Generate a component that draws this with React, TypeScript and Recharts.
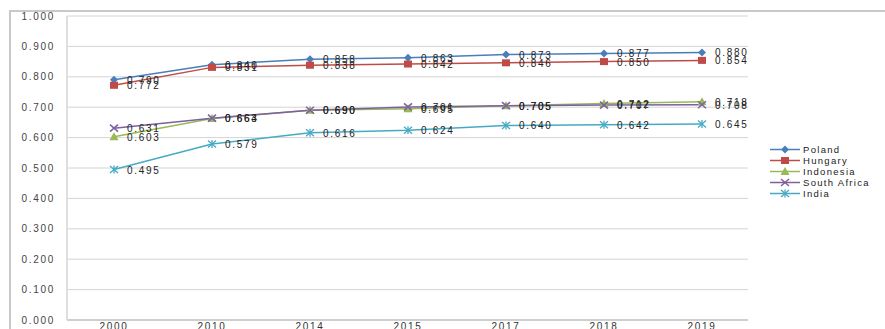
import React from 'react';
import { LineChart, Line, XAxis, YAxis, CartesianGrid, Legend } from 'recharts';

const years = ['2000', '2010', '2014', '2015', '2017', '2018', '2019'];
const poland = [0.790, 0.840, 0.858, 0.863, 0.873, 0.877, 0.880];
const hungary = [0.772, 0.831, 0.838, 0.842, 0.846, 0.850, 0.854];
const indonesia = [0.603, 0.663, 0.690, 0.695, 0.705, 0.712, 0.718];
const southAfrica = [0.631, 0.664, 0.690, 0.701, 0.705, 0.707, 0.708];
const india = [0.495, 0.579, 0.616, 0.624, 0.640, 0.642, 0.645];
const yTicks = [0, 0.1, 0.2, 0.3, 0.4, 0.5, 0.6, 0.7, 0.8, 0.9, 1.0];

const seriesDefs = [
  { key: 'Poland', values: poland, color: '#4a7ebb', shape: 'diamond' },
  { key: 'Hungary', values: hungary, color: '#be4b48', shape: 'square' },
  { key: 'Indonesia', values: indonesia, color: '#98b954', shape: 'triangle' },
  { key: 'South Africa', values: southAfrica, color: '#7d60a0', shape: 'x' },
  { key: 'India', values: india, color: '#46aac5', shape: 'star' },
];

const data = years.map((y, i) => {
  const row: any = { year: y };
  seriesDefs.forEach((s) => { row[s.key] = s.values[i]; });
  return row;
});

const FONT = 'Liberation Sans, Arial, sans-serif';

function Marker({ cx, cy, shape, color }: { cx: number; cy: number; shape: string; color: string }) {
  if (shape === 'diamond') {
    return <polygon points={`${cx},${cy - 4} ${cx + 4},${cy} ${cx},${cy + 4} ${cx - 4},${cy}`} fill={color} />;
  }
  if (shape === 'square') {
    return <rect x={cx - 4} y={cy - 3.5} width={8} height={7} fill={color} />;
  }
  if (shape === 'triangle') {
    return <polygon points={`${cx},${cy - 4.5} ${cx + 4.5},${cy + 3.5} ${cx - 4.5},${cy + 3.5}`} fill={color} />;
  }
  if (shape === 'x') {
    return (
      <g stroke={color} strokeWidth={1.5}>
        <line x1={cx - 4} y1={cy - 3.5} x2={cx + 4} y2={cy + 3.5} />
        <line x1={cx - 4} y1={cy + 3.5} x2={cx + 4} y2={cy - 3.5} />
      </g>
    );
  }
  return (
    <g stroke={color} strokeWidth={1.3}>
      <line x1={cx - 4} y1={cy - 3.5} x2={cx + 4} y2={cy + 3.5} />
      <line x1={cx - 4} y1={cy + 3.5} x2={cx + 4} y2={cy - 3.5} />
      <line x1={cx} y1={cy - 4} x2={cx} y2={cy + 4} />
    </g>
  );
}

function makeDot(shape: string, color: string, name: string) {
  return (props: any) => {
    const { cx, cy, index } = props;
    if (cx == null || cy == null) return <g key={`${name}-${index}`} />;
    return (
      <g key={`${name}-${index}`}>
        <Marker cx={cx} cy={cy} shape={shape} color={color} />
      </g>
    );
  };
}

function makeLabel(name: string) {
  return (props: any) => {
    const { x, y, value, index } = props;
    return (
      <text
        key={`${name}-lbl-${index}`}
        x={x + 13}
        y={y + 4}
        fontSize={10}
        letterSpacing={1.7}
        fill="#222"
        fontFamily={FONT}
      >
        {Number(value).toFixed(3)}
      </text>
    );
  };
}

function LegendContent() {
  return (
    <div style={{ fontFamily: FONT, fontSize: 9.5, letterSpacing: 1.3, color: '#222' }}>
      {seriesDefs.map((s) => (
        <div key={s.key} style={{ height: 11, display: 'flex', alignItems: 'center' }}>
          <svg width={32} height={11} style={{ display: 'block' }}>
            <line x1={1} y1={5.5} x2={31} y2={5.5} stroke={s.color} strokeWidth={1.5} />
            <Marker cx={16} cy={5.5} shape={s.shape} color={s.color} />
          </svg>
          <span style={{ marginLeft: 2, whiteSpace: 'nowrap', lineHeight: '11px' }}>{s.key}</span>
        </div>
      ))}
    </div>
  );
}

export default function App() {
  return (
    <div style={{ position: 'absolute', left: 0, top: 0, width: 885, height: 329, overflow: 'hidden', background: '#fff' }}>
      <div
        style={{
          position: 'absolute',
          left: 9,
          top: 10,
          width: 900,
          height: 340,
          border: '2px solid #c9c9c9',
          boxSizing: 'border-box',
        }}
      />
      <div style={{ position: 'absolute', left: 0, top: 0 }}>
        <LineChart width={885} height={345} data={data} margin={{ top: 16, right: 137, bottom: 5, left: 0 }}>
          <CartesianGrid vertical={false} stroke="#d4d4d4" strokeWidth={1} />
          <XAxis
            dataKey="year"
            padding={{ left: 47, right: 46 }}
            tickLine={false}
            tickSize={0}
            tickMargin={3}
            axisLine={{ stroke: '#cfcfcf', strokeWidth: 2 }}
            height={20}
            tick={{ fontSize: 10, fill: '#333', fontFamily: FONT, letterSpacing: 1.7 }}
            interval={0}
          />
          <YAxis
            width={67}
            domain={[0, 1]}
            ticks={yTicks}
            tickFormatter={(v: number) => v.toFixed(3)}
            tickLine={false}
            tickSize={0}
            tickMargin={12}
            axisLine={{ stroke: '#d4d4d4', strokeWidth: 1.5 }}
            tick={{ fontSize: 10, fill: '#444', fontFamily: FONT, letterSpacing: 1.7 }}
            interval={0}
          />
          {seriesDefs.map((s) => (
            <Line
              key={s.key}
              type="linear"
              dataKey={s.key}
              stroke={s.color}
              strokeWidth={1.5}
              dot={makeDot(s.shape, s.color, s.key)}
              activeDot={false}
              label={makeLabel(s.key)}
              isAnimationActive={false}
            />
          ))}
          <Legend
            layout="horizontal"
            verticalAlign="middle"
            align="center"
            content={() => <LegendContent />}
            wrapperStyle={{ left: 769, top: 144, width: 116 }}
          />
        </LineChart>
      </div>
    </div>
  );
}
